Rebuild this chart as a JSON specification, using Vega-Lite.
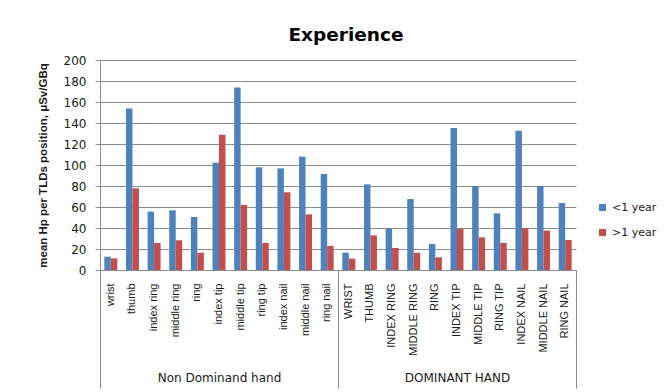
{
  "$schema": "https://vega.github.io/schema/vega-lite/v6.json",
  "padding": {"left": 37, "top": 25, "right": 0, "bottom": 0},
  "background": "white",
  "width": 476,
  "height": 210,
  "title": {
    "text": "Experience",
    "font": "DejaVu Sans",
    "fontSize": 18.5,
    "fontWeight": "bold",
    "color": "#000000",
    "anchor": "middle",
    "dx": 8,
    "offset": 10
  },
  "data": {
    "values": [
      {"hand": "Non Dominand hand", "position": "wrist", "experience": "<1 year", "hp": 12.7},
      {"hand": "Non Dominand hand", "position": "wrist", "experience": ">1 year", "hp": 11.1},
      {"hand": "Non Dominand hand", "position": "thumb", "experience": "<1 year", "hp": 153.7},
      {"hand": "Non Dominand hand", "position": "thumb", "experience": ">1 year", "hp": 77.8},
      {"hand": "Non Dominand hand", "position": "index ring", "experience": "<1 year", "hp": 55.6},
      {"hand": "Non Dominand hand", "position": "index ring", "experience": ">1 year", "hp": 25.7},
      {"hand": "Non Dominand hand", "position": "middle ring", "experience": "<1 year", "hp": 56.8},
      {"hand": "Non Dominand hand", "position": "middle ring", "experience": ">1 year", "hp": 28.3},
      {"hand": "Non Dominand hand", "position": "ring", "experience": "<1 year", "hp": 50.5},
      {"hand": "Non Dominand hand", "position": "ring", "experience": ">1 year", "hp": 16.5},
      {"hand": "Non Dominand hand", "position": "index tip", "experience": "<1 year", "hp": 102.2},
      {"hand": "Non Dominand hand", "position": "index tip", "experience": ">1 year", "hp": 128.9},
      {"hand": "Non Dominand hand", "position": "middle tip", "experience": "<1 year", "hp": 173.7},
      {"hand": "Non Dominand hand", "position": "middle tip", "experience": ">1 year", "hp": 61.9},
      {"hand": "Non Dominand hand", "position": "ring tip", "experience": "<1 year", "hp": 97.8},
      {"hand": "Non Dominand hand", "position": "ring tip", "experience": ">1 year", "hp": 25.7},
      {"hand": "Non Dominand hand", "position": "index nail", "experience": "<1 year", "hp": 96.8},
      {"hand": "Non Dominand hand", "position": "index nail", "experience": ">1 year", "hp": 74.0},
      {"hand": "Non Dominand hand", "position": "middle nail", "experience": "<1 year", "hp": 107.9},
      {"hand": "Non Dominand hand", "position": "middle nail", "experience": ">1 year", "hp": 53.0},
      {"hand": "Non Dominand hand", "position": "ring nail", "experience": "<1 year", "hp": 91.4},
      {"hand": "Non Dominand hand", "position": "ring nail", "experience": ">1 year", "hp": 22.9},
      {"hand": "DOMINANT HAND", "position": "WRIST", "experience": "<1 year", "hp": 16.5},
      {"hand": "DOMINANT HAND", "position": "WRIST", "experience": ">1 year", "hp": 10.8},
      {"hand": "DOMINANT HAND", "position": "THUMB", "experience": "<1 year", "hp": 81.6},
      {"hand": "DOMINANT HAND", "position": "THUMB", "experience": ">1 year", "hp": 33.0},
      {"hand": "DOMINANT HAND", "position": "INDEX RING", "experience": "<1 year", "hp": 39.4},
      {"hand": "DOMINANT HAND", "position": "INDEX RING", "experience": ">1 year", "hp": 21.0},
      {"hand": "DOMINANT HAND", "position": "MIDDLE RING", "experience": "<1 year", "hp": 67.6},
      {"hand": "DOMINANT HAND", "position": "MIDDLE RING", "experience": ">1 year", "hp": 16.5},
      {"hand": "DOMINANT HAND", "position": "RING", "experience": "<1 year", "hp": 24.8},
      {"hand": "DOMINANT HAND", "position": "RING", "experience": ">1 year", "hp": 12.1},
      {"hand": "DOMINANT HAND", "position": "INDEX TIP", "experience": "<1 year", "hp": 135.2},
      {"hand": "DOMINANT HAND", "position": "INDEX TIP", "experience": ">1 year", "hp": 39.4},
      {"hand": "DOMINANT HAND", "position": "MIDDLE TIP", "experience": "<1 year", "hp": 80.0},
      {"hand": "DOMINANT HAND", "position": "MIDDLE TIP", "experience": ">1 year", "hp": 31.1},
      {"hand": "DOMINANT HAND", "position": "RING TIP", "experience": "<1 year", "hp": 54.0},
      {"hand": "DOMINANT HAND", "position": "RING TIP", "experience": ">1 year", "hp": 25.7},
      {"hand": "DOMINANT HAND", "position": "INDEX NAIL", "experience": "<1 year", "hp": 132.7},
      {"hand": "DOMINANT HAND", "position": "INDEX NAIL", "experience": ">1 year", "hp": 40.0},
      {"hand": "DOMINANT HAND", "position": "MIDDLE NAIL", "experience": "<1 year", "hp": 80.0},
      {"hand": "DOMINANT HAND", "position": "MIDDLE NAIL", "experience": ">1 year", "hp": 37.5},
      {"hand": "DOMINANT HAND", "position": "RING NAIL", "experience": "<1 year", "hp": 63.8},
      {"hand": "DOMINANT HAND", "position": "RING NAIL", "experience": ">1 year", "hp": 28.6}
    ]
  },
  "layer": [
    {
      "mark": {"type": "bar"},
      "encoding": {
        "x": {
          "field": "position",
          "type": "nominal",
          "sort": null,
          "scale": {"paddingInner": 0, "paddingOuter": 0},
          "axis": {
            "title": null,
            "orient": "bottom",
            "labelAngle": -90,
            "labelFont": "Liberation Sans",
            "labelFontSize": 11,
            "labelColor": "#1a1a1a",
            "ticks": false,
            "labelPadding": 13,
            "domainColor": "#8c8c8c"
          }
        },
        "xOffset": {
          "field": "experience",
          "type": "nominal",
          "scale": {"paddingInner": 0, "paddingOuter": 0.667}
        },
        "y": {
          "field": "hp",
          "type": "quantitative",
          "scale": {"domain": [0, 200]},
          "axis": {
            "title": "mean Hp per TLDs position, μSv/GBq",
            "titleFont": "Liberation Sans",
            "titleFontSize": 11.5,
            "titleFontWeight": "bold",
            "titleColor": "#1a1a1a",
            "titlePadding": 15,
            "values": [0, 20, 40, 60, 80, 100, 120, 140, 160, 180, 200],
            "labelFont": "DejaVu Sans",
            "labelFontSize": 12,
            "labelColor": "#1a1a1a",
            "labelPadding": 9,
            "tickSize": 5,
            "tickColor": "#8c8c8c",
            "domainColor": "#8c8c8c",
            "gridColor": "#8c8c8c"
          }
        },
        "color": {
          "field": "experience",
          "type": "nominal",
          "scale": {"domain": ["<1 year", ">1 year"], "range": ["#4F81BD", "#C0504D"]},
          "legend": {
            "title": null,
            "orient": "none",
            "legendX": 497,
            "legendY": 142,
            "symbolType": "square",
            "symbolSize": 50,
            "symbolStrokeWidth": 0,
            "labelFont": "DejaVu Sans",
            "labelFontSize": 11,
            "labelColor": "#1a1a1a",
            "rowPadding": 13
          }
        }
      }
    },
    {
      "mark": {"type": "point", "opacity": 0},
      "encoding": {
        "x": {
          "field": "hand",
          "type": "nominal",
          "sort": ["Non Dominand hand", "DOMINANT HAND"],
          "scale": {"paddingInner": 0, "paddingOuter": 0},
          "axis": {
            "title": null,
            "orient": "bottom",
            "domain": false,
            "labelAngle": 0,
            "labelFont": "DejaVu Sans",
            "labelFontSize": 12,
            "labelColor": "#1a1a1a",
            "tickBand": "extent",
            "tickSize": 118,
            "tickColor": "#8c8c8c",
            "labelPadding": -16
          }
        }
      }
    }
  ],
  "resolve": {"scale": {"x": "independent"}, "axis": {"x": "independent"}},
  "config": {
    "view": {"stroke": null},
    "axis": {"gridOpacity": 1}
  }
}
